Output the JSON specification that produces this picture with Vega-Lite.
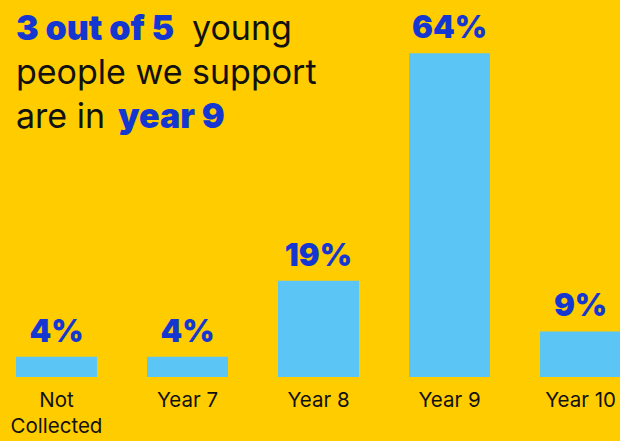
{
  "$schema": "https://vega.github.io/schema/vega-lite/v6.json",
  "width": 637,
  "height": 377,
  "autosize": {"type": "none"},
  "padding": {"left": 0, "top": 0, "right": 0, "bottom": 64},
  "background": "#FFCC00",
  "config": {"view": {"stroke": null}, "font": "Inter"},
  "datasets": {
    "bars": [
      {"group": "Not Collected", "share": 0.04},
      {"group": "Year 7", "share": 0.04},
      {"group": "Year 8", "share": 0.19},
      {"group": "Year 9", "share": 0.64},
      {"group": "Year 10", "share": 0.09}
    ]
  },
  "layer": [
    {
      "data": {"name": "bars"},
      "mark": {"type": "bar", "color": "#5BC6F5"},
      "encoding": {
        "x": {
          "field": "group",
          "type": "nominal",
          "sort": null,
          "scale": {"paddingInner": 0.382, "paddingOuter": 0.122},
          "axis": {
            "title": null,
            "domain": false,
            "ticks": false,
            "labelAngle": 0,
            "labelFontSize": 20.5,
            "labelColor": "#111111",
            "labelPadding": 13,
            "labelLineHeight": 26,
            "labelExpr": "datum.label == 'Not Collected' ? ['Not', 'Collected'] : datum.label"
          }
        },
        "y": {
          "field": "share",
          "type": "quantitative",
          "scale": {"domain": [0, 0.745], "nice": false, "zero": true},
          "axis": null
        }
      }
    },
    {
      "data": {"name": "bars"},
      "mark": {"type": "text", "fontSize": 31, "fontWeight": 900, "color": "#1437D2", "dy": -15, "baseline": "alphabetic"},
      "encoding": {
        "x": {"field": "group", "type": "nominal", "sort": null},
        "y": {"field": "share", "type": "quantitative"},
        "text": {"field": "share", "type": "quantitative", "format": ".0%"}
      }
    },
    {
      "data": {"values": [{"part": "3 out of 5"}]},
      "mark": {"type": "text", "fontSize": 34, "fontWeight": 900, "color": "#1437D2", "align": "left", "baseline": "alphabetic"},
      "encoding": {
        "x": {"datum": "Not Collected", "type": "nominal", "bandPosition": 0},
        "y": {"datum": 0.666, "type": "quantitative"},
        "text": {"field": "part", "type": "nominal"}
      }
    },
    {
      "data": {"values": [{"part": "young"}]},
      "mark": {"type": "text", "fontSize": 34, "fontWeight": "normal", "color": "#111111", "align": "left", "baseline": "alphabetic", "dx": 176},
      "encoding": {
        "x": {"datum": "Not Collected", "type": "nominal", "bandPosition": 0},
        "y": {"datum": 0.666, "type": "quantitative"},
        "text": {"field": "part", "type": "nominal"}
      }
    },
    {
      "data": {"values": [{"part": "people we support"}]},
      "mark": {"type": "text", "fontSize": 34, "fontWeight": "normal", "color": "#111111", "align": "left", "baseline": "alphabetic"},
      "encoding": {
        "x": {"datum": "Not Collected", "type": "nominal", "bandPosition": 0},
        "y": {"datum": 0.579, "type": "quantitative"},
        "text": {"field": "part", "type": "nominal"}
      }
    },
    {
      "data": {"values": [{"part": "are in"}]},
      "mark": {"type": "text", "fontSize": 34, "fontWeight": "normal", "color": "#111111", "align": "left", "baseline": "alphabetic"},
      "encoding": {
        "x": {"datum": "Not Collected", "type": "nominal", "bandPosition": 0},
        "y": {"datum": 0.492, "type": "quantitative"},
        "text": {"field": "part", "type": "nominal"}
      }
    },
    {
      "data": {"values": [{"part": "year 9"}]},
      "mark": {"type": "text", "fontSize": 34, "fontWeight": 900, "color": "#1437D2", "align": "left", "baseline": "alphabetic", "dx": 102},
      "encoding": {
        "x": {"datum": "Not Collected", "type": "nominal", "bandPosition": 0},
        "y": {"datum": 0.492, "type": "quantitative"},
        "text": {"field": "part", "type": "nominal"}
      }
    }
  ]
}
